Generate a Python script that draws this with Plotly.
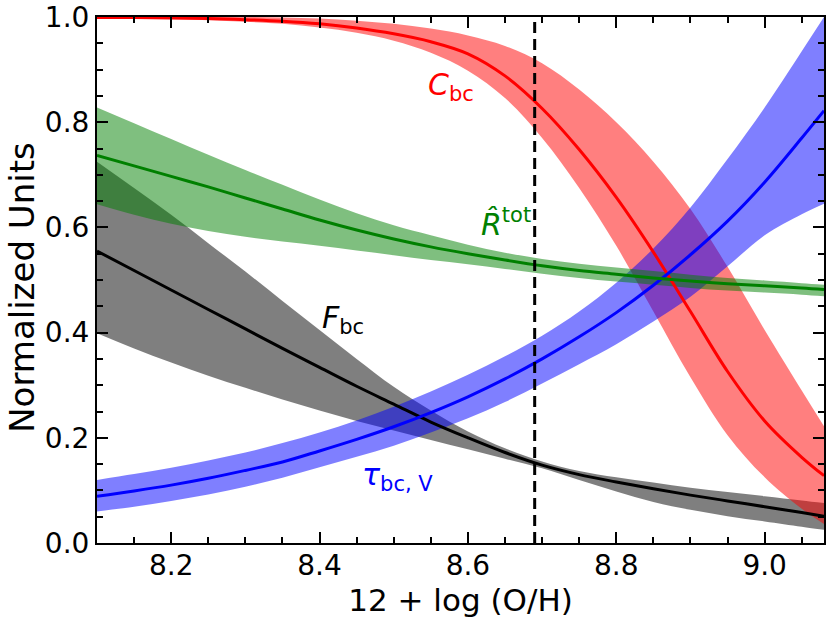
import plotly.graph_objects as go

# ---------------- data ----------------
oh = [8.10, 8.15, 8.20, 8.25, 8.30, 8.35, 8.40, 8.45, 8.50, 8.55, 8.60,
      8.65, 8.70, 8.75, 8.80, 8.85, 8.90, 8.95, 9.00, 9.05, 9.08]

# F_bc (black / grey)
f_mid = [0.555, 0.518, 0.481, 0.444, 0.407, 0.370, 0.334, 0.298, 0.264, 0.230, 0.200,
         0.172, 0.148, 0.130, 0.116, 0.103, 0.091, 0.080, 0.069, 0.058, 0.051]
f_hi = [0.725, 0.675, 0.624, 0.570, 0.516, 0.460, 0.405, 0.350, 0.297, 0.252, 0.212,
        0.180, 0.155, 0.137, 0.125, 0.115, 0.105, 0.097, 0.089, 0.081, 0.076]
f_lo = [0.399, 0.370, 0.343, 0.318, 0.295, 0.273, 0.252, 0.232, 0.214, 0.196, 0.178,
        0.160, 0.142, 0.120, 0.098, 0.078, 0.063, 0.051, 0.041, 0.031, 0.025]

# C_bc (red)
c_mid = [0.999, 0.999, 0.998, 0.997, 0.995, 0.992, 0.987, 0.979, 0.968, 0.953, 0.930,
         0.888, 0.826, 0.748, 0.657, 0.553, 0.440, 0.326, 0.232, 0.163, 0.128]
c_hi = [1.000, 1.000, 1.000, 1.000, 1.000, 0.999, 0.997, 0.993, 0.987, 0.978, 0.965,
        0.945, 0.912, 0.862, 0.800, 0.725, 0.635, 0.525, 0.405, 0.290, 0.222]
c_lo = [0.998, 0.997, 0.996, 0.994, 0.991, 0.987, 0.980, 0.970, 0.955, 0.932, 0.898,
        0.846, 0.770, 0.675, 0.565, 0.440, 0.315, 0.205, 0.125, 0.065, 0.036]

# tau_bc,V (blue)
t_mid = [0.089, 0.099, 0.110, 0.123, 0.138, 0.154, 0.175, 0.197, 0.221, 0.248, 0.278,
         0.312, 0.350, 0.392, 0.438, 0.490, 0.548, 0.612, 0.686, 0.770, 0.822]
t_hi = [0.120, 0.131, 0.143, 0.157, 0.172, 0.190, 0.210, 0.233, 0.259, 0.288, 0.320,
        0.355, 0.394, 0.440, 0.495, 0.560, 0.638, 0.730, 0.828, 0.935, 1.000]
t_lo = [0.060, 0.069, 0.080, 0.092, 0.107, 0.124, 0.144, 0.164, 0.185, 0.210, 0.237,
        0.268, 0.303, 0.340, 0.378, 0.421, 0.468, 0.526, 0.585, 0.625, 0.645]

# R_tot (green)
r_mid = [0.737, 0.717, 0.697, 0.677, 0.656, 0.635, 0.614, 0.595, 0.578, 0.563, 0.550,
         0.538, 0.527, 0.518, 0.511, 0.504, 0.498, 0.493, 0.489, 0.485, 0.482]
r_hi = [0.828, 0.798, 0.768, 0.738, 0.709, 0.681, 0.653, 0.627, 0.604, 0.585, 0.567,
        0.552, 0.540, 0.531, 0.524, 0.517, 0.510, 0.504, 0.499, 0.494, 0.491]
r_lo = [0.644, 0.624, 0.607, 0.593, 0.582, 0.573, 0.565, 0.556, 0.547, 0.538, 0.530,
        0.521, 0.512, 0.504, 0.497, 0.491, 0.485, 0.480, 0.476, 0.472, 0.469]

solar_oh = 8.69

x_ticks = [8.2, 8.4, 8.6, 8.8, 9.0]
x_ticktext = ["8.2", "8.4", "8.6", "8.8", "9.0"]
y_ticks = [0.0, 0.2, 0.4, 0.6, 0.8, 1.0]
y_ticktext = ["0.0", "0.2", "0.4", "0.6", "0.8", "1.0"]

x_title = "12 + log (O/H)"
y_title = "Normalized Units"

labels = [
    dict(text="<i>C</i><sub>bc</sub>", x=8.577, y=0.867, color="red"),
    dict(text="<i>R\u0302</i><sup>tot</sup>", x=8.652, y=0.610, color="green"),
    dict(text="<i>F</i><sub>bc</sub>", x=8.432, y=0.424, color="black"),
    dict(text="<i>\u03c4</i><sub>bc, V</sub>", x=8.505, y=0.127, color="blue"),
]

FONT = "DejaVu Sans"

# ---------------- figure ----------------
fig = go.Figure()

series = [
    (f_lo, f_mid, f_hi, "black", "rgba(0,0,0,0.5)"),
    (c_lo, c_mid, c_hi, "red", "rgba(255,0,0,0.5)"),
    (t_lo, t_mid, t_hi, "blue", "rgba(0,0,255,0.5)"),
    (r_lo, r_mid, r_hi, "green", "rgba(0,128,0,0.5)"),
]

for lo, mid, hi, lc, fc in series:
    fig.add_trace(go.Scatter(x=oh, y=lo, mode="lines", line=dict(width=0, shape="spline"),
                             hoverinfo="skip", showlegend=False))
    fig.add_trace(go.Scatter(x=oh, y=hi, mode="lines", line=dict(width=0, shape="spline"),
                             fill="tonexty", fillcolor=fc, hoverinfo="skip", showlegend=False))
for lo, mid, hi, lc, fc in series:
    fig.add_trace(go.Scatter(x=oh, y=mid, mode="lines", line=dict(color=lc, width=3, shape="spline"),
                             showlegend=False))

fig.add_vline(x=solar_oh, line=dict(color="black", width=3, dash="11px,6px"))

for lab in labels:
    fig.add_annotation(x=lab["x"], y=lab["y"], text=lab["text"], showarrow=False,
                       font=dict(family=FONT, size=30, color=lab["color"]),
                       xanchor="center", yanchor="middle")

# y-axis title placed as a rotated annotation for exact positioning
fig.add_annotation(xref="paper", yref="paper", x=-0.1025, y=0.486, text=y_title,
                   textangle=-90, showarrow=False, xanchor="center", yanchor="middle",
                   font=dict(family=FONT, size=34, color="black"))

axis_common = dict(
    showline=True, linecolor="black", linewidth=2, mirror="ticks",
    ticks="inside", ticklen=11, tickwidth=2, tickcolor="black",
    showgrid=False, zeroline=False, automargin=False, ticklabeloverflow="allow",
    tickfont=dict(family=FONT, size=28, color="black"),
)

fig.update_xaxes(
    range=[8.1, 9.08], tickvals=x_ticks, ticktext=x_ticktext,
    minor=dict(ticks="inside", ticklen=6, tickwidth=1.5, tickcolor="black", dtick=0.05, tick0=8.1),
    title=dict(text=x_title, font=dict(family=FONT, size=31, color="black"), standoff=4),
    ticklabelstandoff=-4,
    **axis_common,
)
fig.update_yaxes(
    range=[0, 1], tickvals=y_ticks, ticktext=y_ticktext,
    minor=dict(ticks="inside", ticklen=6, tickwidth=1.5, tickcolor="black", dtick=0.05, tick0=0),
    **axis_common,
)

fig.update_layout(
    width=830, height=623,
    margin=dict(l=97, r=6, t=17, b=80),
    paper_bgcolor="white", plot_bgcolor="white",
    font=dict(family=FONT),
)

# remove the default 8px page margin so the figure fills the window exactly
fig.write_html("out.html", config={"displayModeBar": False},
               post_script="document.body.style.margin='0px';")
